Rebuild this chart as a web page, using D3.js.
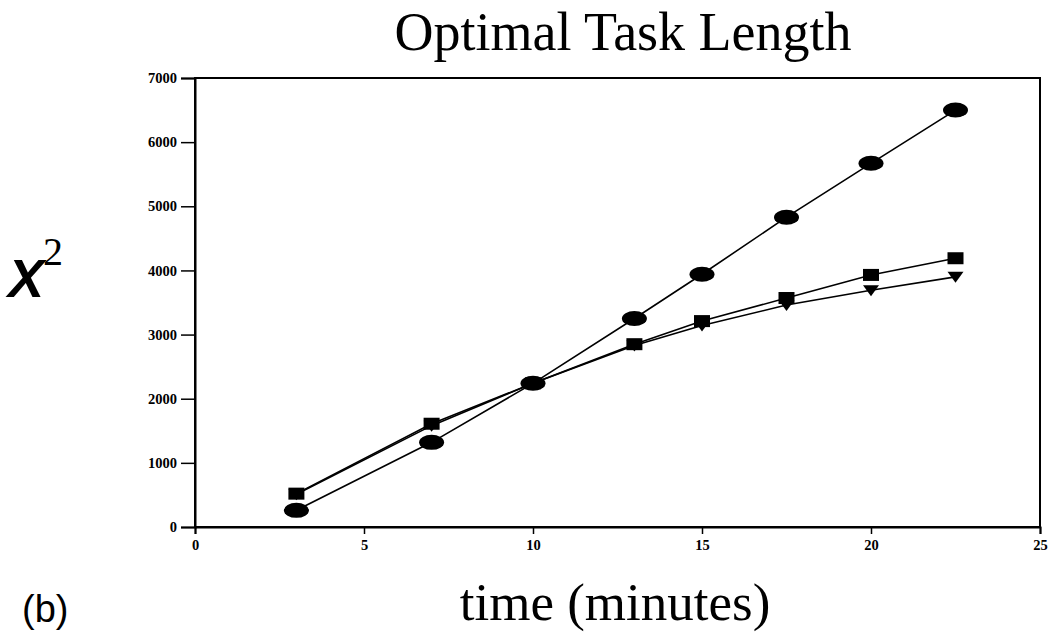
<!DOCTYPE html>
<html><head><meta charset="utf-8">
<script src="https://cdn.jsdelivr.net/npm/d3@7"></script>
<style>body{margin:0;background:#fff;} svg{display:block;}</style>
</head><body>
<svg id="c" width="1060" height="632"></svg>
<script>
const xTicks = [0, 5, 10, 15, 20, 25];
const yTicks = [0, 1000, 2000, 3000, 4000, 5000, 6000, 7000];
const times = [3, 7, 10, 13, 15, 17.5, 20, 22.5];
const circleSeries = [260, 1320, 2240, 3250, 3940, 4830, 5670, 6500];
const squareSeries = [520, 1610, 2240, 2850, 3210, 3570, 3930, 4190];
const triangleSeries = [510, 1580, 2240, 2830, 3140, 3460, 3690, 3900];

const svg = d3.select("#c");
const L = 195, R = 1040, T = 78, B = 527;
const x = d3.scaleLinear().domain([0, 25]).range([L, R]);
const y = d3.scaleLinear().domain([0, 7000]).range([B, T]);

// frame
svg.append("rect").attr("x", L).attr("y", T).attr("width", R - L).attr("height", B - T)
  .attr("fill", "none").attr("stroke", "#000").attr("stroke-width", 2);

const yAxis = svg.append("g").attr("transform", `translate(${L},0)`)
  .call(d3.axisLeft(y).tickValues(yTicks).tickSize(14).tickPadding(4).tickFormat(d3.format("d")));
const xAxis = svg.append("g").attr("transform", `translate(0,${B})`)
  .call(d3.axisBottom(x).tickValues(xTicks).tickSize(7).tickPadding(6).tickFormat(d3.format("d")));
[yAxis, xAxis].forEach(g => {
  g.select(".domain").attr("stroke", "#000").attr("stroke-width", 2);
  g.selectAll(".tick line").attr("stroke", "#000").attr("stroke-width", 1.5);
  g.selectAll(".tick text").attr("fill", "#000")
    .style("font-family", "'Liberation Serif','Times New Roman',serif")
    .style("font-weight", "bold").style("font-size", "14.5px");
});

function series(vals, width) {
  const pts = times.map((t, i) => [t, vals[i]]);
  svg.append("path").datum(pts)
    .attr("d", d3.line().x(d => x(d[0])).y(d => y(d[1])))
    .attr("fill", "none").attr("stroke", "#000").attr("stroke-width", width);
  return pts;
}
const tp = series(triangleSeries, 1.6);
const sp = series(squareSeries, 1.6);
const cp = series(circleSeries, 1.6);

svg.append("g").selectAll("path").data(tp).join("path")
  .attr("transform", d => `translate(${x(d[0])},${y(d[1])})`)
  .attr("d", "M-8,-5L8,-5L0,6Z").attr("fill", "#000");
svg.append("g").selectAll("rect").data(sp).join("rect")
  .attr("x", d => x(d[0]) - 8).attr("y", d => y(d[1]) - 6)
  .attr("width", 16).attr("height", 12).attr("fill", "#000");
svg.append("g").selectAll("ellipse").data(cp).join("ellipse")
  .attr("cx", d => x(d[0])).attr("cy", d => y(d[1]))
  .attr("rx", 12.5).attr("ry", 7.5).attr("fill", "#000");

// titles
svg.append("text").attr("x", 623).attr("y", 50).attr("text-anchor", "middle")
  .style("font-family", "'Liberation Serif','Times New Roman',serif").style("font-size", "54px")
  .text("Optimal Task Length");
svg.append("text").attr("x", 615).attr("y", 620).attr("text-anchor", "middle")
  .style("font-family", "'Liberation Serif','Times New Roman',serif").style("font-size", "53px")
  .text("time (minutes)");
const chi = svg.append("text").attr("x", 8).attr("y", 297);
chi.append("tspan").style("font-family", "'Liberation Sans',Arial,sans-serif")
  .style("font-size", "54px").style("font-weight", "bold").style("font-style", "italic").text("X");
chi.append("tspan").attr("dy", -32).attr("dx", -1)
  .style("font-family", "'Liberation Serif','Times New Roman',serif").style("font-size", "40px").text("2");
svg.append("text").attr("x", 22).attr("y", 622)
  .style("font-family", "'Liberation Sans',Arial,sans-serif").style("font-size", "38px")
  .text("(b)");
</script>
</body></html>
